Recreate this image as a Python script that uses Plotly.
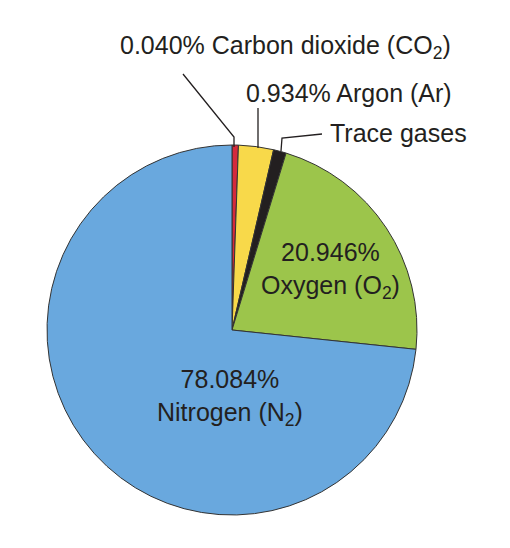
import plotly.graph_objects as go

gases = ["Carbon dioxide", "Argon", "Trace gases", "Oxygen", "Nitrogen"]
# slice sizes as drawn (small slices exaggerated in the original)
slice_sizes = [2, 11, 4, 79, 264]
colors = ["#d42a3c", "#f8d94a", "#231f20", "#9cc54b", "#69a8de"]

W, H = 510, 548
OFF = 8
def px(x): return (x - OFF) / W
def py(y): return 1 - (y - OFF) / H

fig = go.Figure(go.Pie(
    labels=gases, values=slice_sizes, sort=False, direction="clockwise", rotation=0,
    marker=dict(colors=colors, line=dict(color="#333333", width=1)),
    textinfo="none", hoverinfo="label", showlegend=False,
    domain=dict(x=[px(47), px(417)], y=[py(515), py(145)]),
))

font = dict(family="Liberation Sans, Arial", size=25, color="#231f20")
anns = [
    ("0.040% Carbon dioxide (CO<sub>2</sub>)", 285, 47),
    ("0.934% Argon (Ar)", 349, 93),
    ("Trace gases", 398, 133),
    ("20.946%<br>Oxygen (O<sub>2</sub>)", 330, 270),
    ("78.084%<br>Nitrogen (N<sub>2</sub>)", 230, 397),
]
fig.update_layout(
    width=W, height=H, margin=dict(l=0, r=0, t=0, b=0),
    paper_bgcolor="white", plot_bgcolor="white",
    annotations=[dict(text=t, x=px(x), y=py(y), xref="paper", yref="paper",
                      xanchor="center", yanchor="middle",
                      showarrow=False, font=font, align="center") for t, x, y in anns],
    shapes=[
        dict(type="path", xref="paper", yref="paper",
             path=f"M {px(183)} {py(74)} L {px(234)} {py(137)} L {px(234)} {py(147)}",
             line=dict(color="#231f20", width=1.3)),
        dict(type="line", xref="paper", yref="paper",
             x0=px(258), y0=py(108), x1=px(258), y1=py(148), line=dict(color="#231f20", width=1.3)),
        dict(type="path", xref="paper", yref="paper",
             path=f"M {px(281)} {py(151)} L {px(282)} {py(138)} L {px(322)} {py(134)}",
             line=dict(color="#231f20", width=1.3)),
    ],
)
fig.write_html("out.html")
